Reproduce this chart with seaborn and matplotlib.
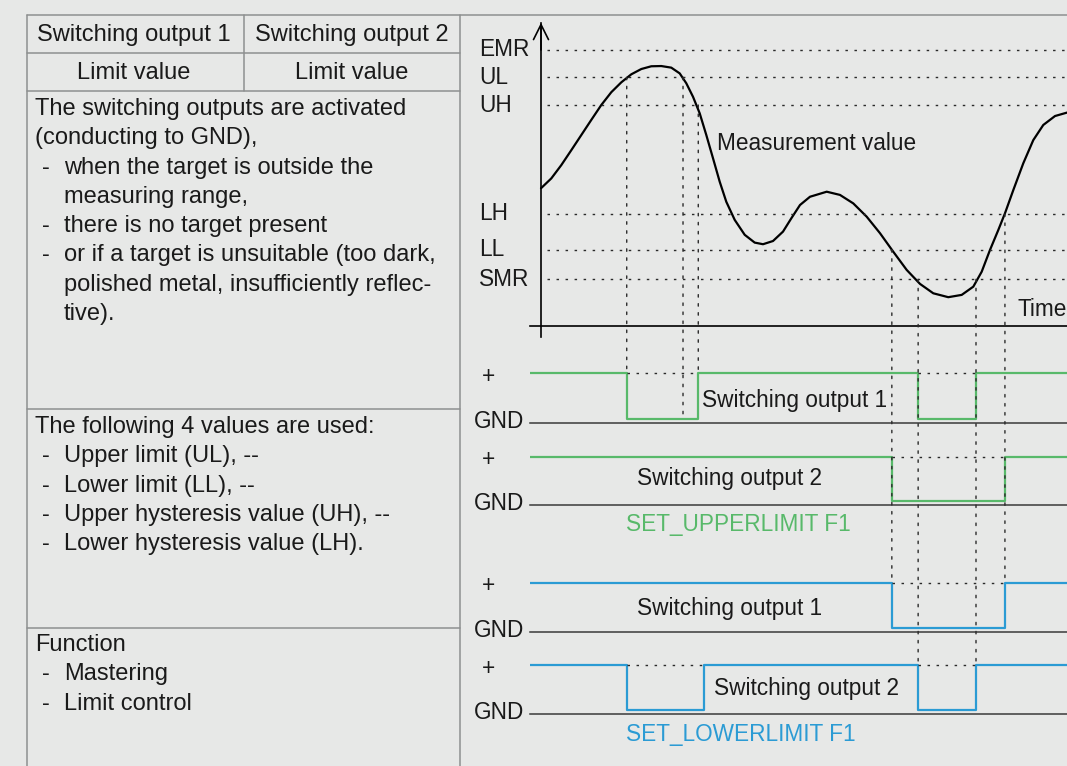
import matplotlib
matplotlib.use('Agg')
import matplotlib.pyplot as plt
from matplotlib.patches import ConnectionPatch
import seaborn as sns

# levels of the measuring range (SMR = 0, EMR = 100)
level_names = ['EMR', 'UL', 'UH', 'LH', 'LL', 'SMR']
level_values = [100, 88.1, 76.0, 28.5, 12.9, 0]

curve_t = [0, 1.96, 3.86, 5.76, 7.66, 9.56, 11.46, 13.37, 15.27, 17.17, 19.07,
           20.97, 22.87, 24.77, 26.37, 27.62, 28.90, 30.17, 31.43, 32.70, 33.97,
           35.23, 36.83, 38.73, 40.63, 42.21, 44.11, 46.01, 47.59, 49.24, 51.14,
           54.32, 56.84, 59.37, 61.92, 64.45, 66.98, 69.52, 72.05, 74.58, 77.43,
           79.98, 82.19, 83.78, 85.36, 86.94, 88.21, 89.79, 91.69, 93.59, 95.49,
           97.72, 100.0]
curve_v = [39.7, 44.0, 49.8, 56.3, 62.9, 69.5, 76.0, 81.6, 85.9, 89.4, 91.7,
           92.9, 93.0, 92.3, 89.8, 85.5, 79.6, 72.4, 62.9, 52.8, 42.6,
           33.8, 25.9, 19.4, 16.0, 15.3, 16.7, 20.8, 26.6, 32.4, 36.0,
           38.2, 36.8, 33.1, 27.3, 20.1, 12.0, 4.1, -2.0, -6.1, -7.8,
           -6.8, -3.2, 3.3, 12.8, 21.5, 28.8, 38.9, 50.6, 60.7, 67.3,
           71.2, 72.7]

# switching outputs: step times and states (1 = +, 0 = GND)
t_start, t_end = -2.09, 100.0
up_so1_t = [t_start, 16.3, 29.9, 71.7, 82.7, t_end]
up_so1_s = [1, 0, 1, 0, 1, 1]
up_so2_t = [t_start, 66.7, 88.2, t_end]
up_so2_s = [1, 0, 1, 1]
lo_so1_t = [t_start, 66.7, 88.2, t_end]
lo_so1_s = [1, 0, 1, 1]
lo_so2_t = [t_start, 16.3, 31.0, 71.7, 82.7, t_end]
lo_so2_s = [1, 0, 1, 0, 1, 1]

# dotted guides: time, curve level, target output, target state
guide_t = [16.3, 27.0, 29.9, 66.7, 71.7, 82.7, 88.2]
guide_level = ['UL', 'UL', 'UH', 'LL', 'SMR', 'SMR', 'LH']
guide_target = ['up_so1', 'up_so1', 'up_so1', 'lo_so1', 'lo_so2', 'lo_so2', 'lo_so1']
guide_state = [1, 0, 1, 1, 1, 1, 1]

# table text
header = ['Switching output 1', 'Switching output 2']
limit_row = ['Limit value', 'Limit value']
block1 = [('The switching outputs are activated', 0), ('(conducting to GND),', 0),
          ('when the target is outside the', 1), ('measuring range,', 2),
          ('there is no target present', 1),
          ('or if a target is unsuitable (too dark,', 1),
          ('polished metal, insufficiently reflec-', 2), ('tive).', 2)]
block2 = [('The following 4 values are used:', 0), ('Upper limit (UL), --', 1),
          ('Lower limit (LL), --', 1), ('Upper hysteresis value (UH), --', 1),
          ('Lower hysteresis value (LH).', 1)]
block3 = [('Function', 0), ('Mastering', 1), ('Limit control', 1)]

W, H = 1067, 766
BG = '#e7e8e7'
GREEN = '#58b96a'
BLUE = '#2b9bd4'
RULE = '#8e9090'
DOT = '#2a2a2a'
DOTS = (0, (1.8, 4.7))
TFS = 17
PFS = 16.3
INK = '#1a1a1a'

sns.set_theme(style='white', rc={'axes.facecolor': 'none', 'figure.facecolor': BG,
                                 'savefig.facecolor': BG})
plt.rcParams['font.family'] = ['Liberation Sans', 'DejaVu Sans']


def px_rect(x0, y0, x1, y1):
    return [x0 / W, 1 - y1 / H, (x1 - x0) / W, (y1 - y0) / H]


fig = plt.figure(figsize=(W / 100, H / 100), dpi=100)
bg = fig.add_axes([0, 0, 1, 1])
bg.set_xlim(0, W)
bg.set_ylim(H, 0)
bg.axis('off')

# table frame
bg.plot([27, W], [15, 15], color=RULE, lw=1.1)
for x in (27, 460):
    bg.plot([x, x], [15, H], color=RULE, lw=1.1)
bg.plot([244, 244], [15, 91], color=RULE, lw=1.1)
for y in (53, 91, 409, 628):
    bg.plot([27, 460], [y, y], color=RULE, lw=1.1)

for cx, h, l in zip([134, 352], header, limit_row):
    bg.text(cx, 35, h, ha='center', va='center', fontsize=TFS, color=INK)
    bg.text(cx, 73, l, ha='center', va='center', fontsize=TFS, color=INK)


def write_block(lines, y0, step=29.3):
    for i, (txt, kind) in enumerate(lines):
        y = y0 + i * step
        if kind == 0:
            bg.text(35, y, txt, va='center', fontsize=TFS, color=INK)
        else:
            if kind == 1:
                bg.text(42, y, '-', va='center', fontsize=TFS, color=INK)
            bg.text(64, y, txt, va='center', fontsize=TFS, color=INK)


write_block(block1, 109)
write_block(block2, 427)
write_block(block3, 645)

# measurement curve
ax = fig.add_axes(px_rect(530, 22.7, W, 337))
ax.set_xlim(t_start, t_end)
ax.set_ylim(-25.16, 111.9)
sns.lineplot(x=curve_t, y=curve_v, ax=ax, sort=False, estimator=None,
             color='black', lw=1.6)
ax.hlines(level_values, 1.14, t_end, colors=DOT, linestyles=DOTS, lw=1.0)
for name, val in zip(level_names, level_values):
    ax.text(-11.8, val, name, ha='left', va='center', fontsize=PFS,
            color=INK, clip_on=False)
for side in ('top', 'right'):
    ax.spines[side].set_visible(False)
ax.spines['left'].set_position(('data', 0))
ax.spines['bottom'].set_position(('data', -20.4))
for side in ('left', 'bottom'):
    ax.spines[side].set_color('black')
    ax.spines[side].set_linewidth(1.2)
ax.set_xticks([])
ax.set_yticks([])
ax.set_xlabel('')
ax.set_ylabel('')
ax.annotate('', xy=(0, 111.9), xytext=(0, 100), annotation_clip=False,
            arrowprops=dict(arrowstyle='->,head_length=0.9,head_width=0.45',
                            color='black', lw=1.2, shrinkA=0, shrinkB=0))


def signal_axes(y_plus, y_low, y_gnd, t, s, color):
    unit = y_low - y_plus
    a = fig.add_axes(px_rect(530, y_plus - 8, W, y_gnd))
    a.set_xlim(t_start, t_end)
    a.set_ylim(-(y_gnd - y_low) / unit, 1 + 8 / unit)
    sns.lineplot(x=t, y=s, ax=a, sort=False, estimator=None,
                 drawstyle='steps-post', color=color, lw=1.6)
    for i in range(len(t) - 1):
        if s[i] == 0:
            a.hlines(1, t[i], t[i + 1], colors=DOT, linestyles=DOTS, lw=1.0)
    for side in ('left', 'top', 'right'):
        a.spines[side].set_visible(False)
    a.spines['bottom'].set_color('#3a3a3a')
    a.spines['bottom'].set_linewidth(1.1)
    a.set_xticks([])
    a.set_yticks([])
    a.set_xlabel('')
    a.set_ylabel('')
    a.text(-9.9, 1 - 3 / unit, '+', ha='center', va='center', fontsize=PFS,
           color=INK, clip_on=False)
    a.text(-3.1, a.get_ylim()[0] + 1 / unit, 'GND', ha='right', va='center',
           fontsize=PFS, color=INK, clip_on=False)
    return a


sig = {
    'up_so1': signal_axes(373.3, 419.3, 422.7, up_so1_t, up_so1_s, GREEN),
    'up_so2': signal_axes(456.7, 501.3, 504.7, up_so2_t, up_so2_s, GREEN),
    'lo_so1': signal_axes(582.7, 628.0, 631.7, lo_so1_t, lo_so1_s, BLUE),
    'lo_so2': signal_axes(665.3, 710.0, 713.7, lo_so2_t, lo_so2_s, BLUE),
}

lev = dict(zip(level_names, level_values))
for t, name, target, state in zip(guide_t, guide_level, guide_target, guide_state):
    con = ConnectionPatch(xyA=(t, lev[name]), coordsA=ax.transData,
                          xyB=(t, state), coordsB=sig[target].transData,
                          color=DOT, lw=1.0, linestyle=DOTS)
    fig.add_artist(con)

# labels in the diagram
bg.text(717, 143, 'Measurement value', va='center', fontsize=PFS, color=INK)
bg.text(1017, 310, 'Time', va='center', fontsize=PFS, color=INK)
bg.text(702, 400, 'Switching output 1', va='center', fontsize=PFS, color=INK)
bg.text(637, 478, 'Switching output 2', va='center', fontsize=PFS, color=INK)
bg.text(626, 524, 'SET_UPPERLIMIT F1', va='center', fontsize=PFS, color=GREEN)
bg.text(637, 608, 'Switching output 1', va='center', fontsize=PFS, color=INK)
bg.text(714, 688, 'Switching output 2', va='center', fontsize=PFS, color=INK)
bg.text(626, 734, 'SET_LOWERLIMIT F1', va='center', fontsize=PFS, color=BLUE)

fig.savefig('out.png', dpi=100)
